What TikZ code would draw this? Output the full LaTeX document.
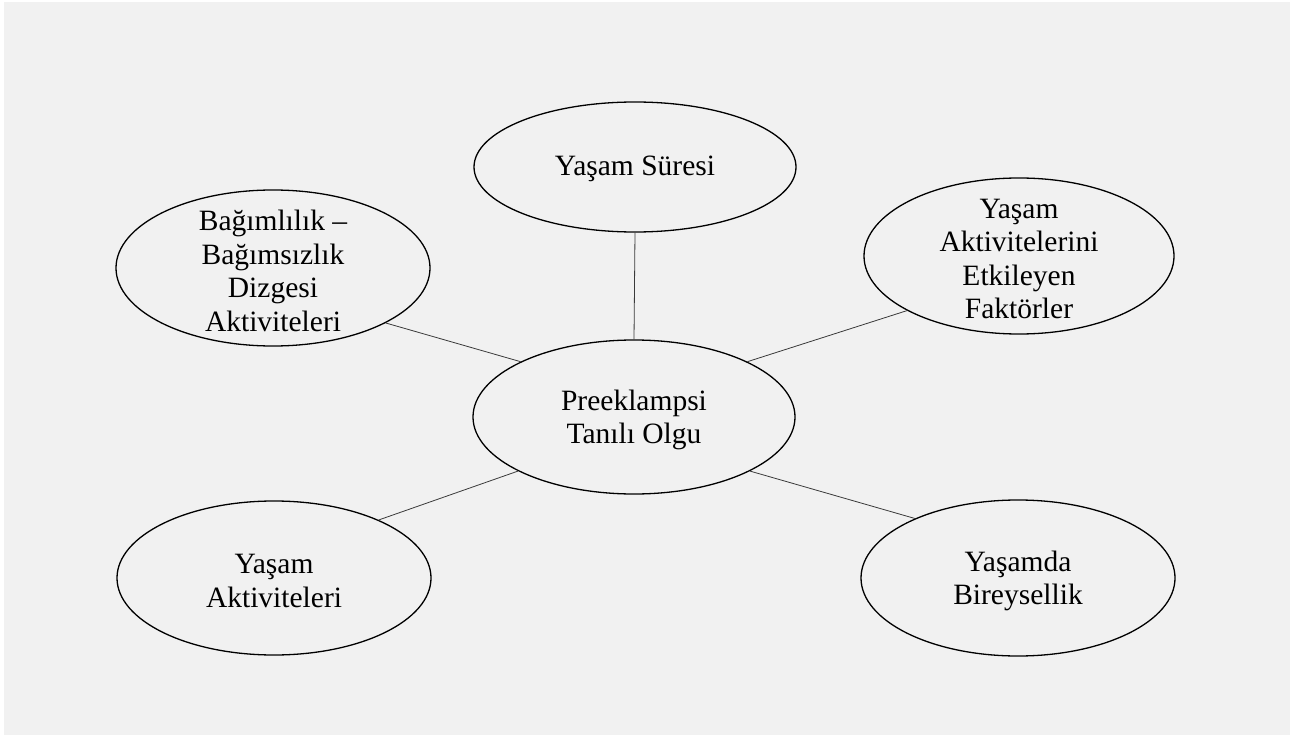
\documentclass[tikz,border=0pt]{standalone}
\usepackage{fontspec}
\setmainfont{Liberation Serif}
\usetikzlibrary{shapes.geometric}
\definecolor{bggray}{HTML}{F1F1F1}
\definecolor{linegray}{HTML}{3A3A3A}
\begin{document}
\begin{tikzpicture}[x=1pt,y=-1pt,
  oval/.style={ellipse,draw=black,line width=1.3pt,inner sep=0pt,fill=bggray},
  lbl/.style={align=center,inner sep=0pt,font=\fontsize{29.5}{33.5}\selectfont,text=black},
  conn/.style={draw=linegray,line width=0.8pt}]
\useasboundingbox (0,0) rectangle (1290,735);
\fill[white] (0,0) rectangle (1290,735);
\fill[bggray] (4,2) rectangle (1290,735);
\node[oval,minimum width=322pt,minimum height=130pt] (top) at (635,167) {};
\node[oval,minimum width=314pt,minimum height=156pt] (lt) at (273,268) {};
\node[oval,minimum width=310pt,minimum height=156pt] (rt) at (1019,256) {};
\node[oval,minimum width=322pt,minimum height=154pt] (ctr) at (634,417) {};
\node[oval,minimum width=314pt,minimum height=154pt] (lb) at (274,578) {};
\node[oval,minimum width=314pt,minimum height=156pt] (rb) at (1018,578) {};
\node[lbl] (ttop) at (635,169) {Yaşam Süresi};
\node[lbl] (tlt) at (273,271) {Bağımlılık –\\Bağımsızlık\\Dizgesi\\Aktiviteleri};
\node[lbl] (trt) at (1019,259) {Yaşam\\Aktivitelerini\\Etkileyen\\Faktörler};
\node[lbl] (tctr) at (634,420) {Preeklampsi\\Tanılı Olgu};
\node[lbl] (tlb) at (274,581) {Yaşam\\Aktiviteleri};
\node[lbl] (trb) at (1018,581) {Yaşamda\\Bireysellik};
\draw[conn] (top.south) -- (ctr.north);
\draw[conn] (lt.-26) -- (ctr.154);
\draw[conn] (rt.206) -- (ctr.26);
\draw[conn] (lb.29) -- (ctr.205);
\draw[conn] (rb.150) -- (ctr.-25);
\end{tikzpicture}
\end{document}
